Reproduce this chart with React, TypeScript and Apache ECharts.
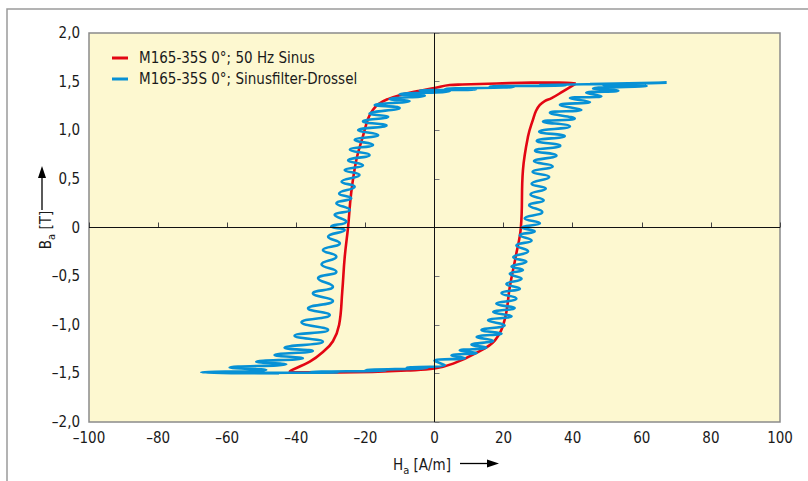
import React, { useEffect, useRef } from "react";
import * as echarts from "echarts";

// ---- data (H in A/m, B in T) ----
const redName = "M165-35S 0°; 50 Hz Sinus";
const blueName = "M165-35S 0°; Sinusfilter-Drossel";

const redH = [40.9, 36, 28, 18, 8, 4.4, 0, -5.2, -10.1, -13.5, -16.2, -17.8, -19.2, -20.7, -22.6, -24.1, -25.0, -26.0, -26.7, -27.6, -29.4, -32.3, -36.1, -41.9,
  -36, -28, -18, -8, 0, 5.4, 12.1, 17.5, 20.3, 21.8, 23.5, 25.0, 25.6, 27.1, 28.5, 29.4, 30.5, 31.9, 33.9, 37.2, 40.9];
const redB = [1.48, 1.49, 1.49, 1.48, 1.47, 1.465, 1.435, 1.40, 1.36, 1.32, 1.27, 1.21, 1.12, 0.94, 0.70, 0.36, 0.01, -0.31, -0.66, -1.0, -1.17, -1.28, -1.38, -1.48,
  -1.49, -1.49, -1.485, -1.47, -1.45, -1.40, -1.29, -1.16, -0.95, -0.61, -0.30, 0.0, 0.59, 0.94, 1.11, 1.2, 1.26, 1.30, 1.33, 1.40, 1.48];

const blueTopH = [67.2, 45, 56, 30, 38, 16, 23, 3, 12];
const blueTopB = [1.49, 1.475, 1.478, 1.465, 1.462, 1.45, 1.445, 1.425, 1.418];

const blueLeftUpH = [-4.3, 4.4, -10.1, -2.8, -13.0, -7.2, -17.3, -10.1, -18.8, -13.4, -20.7, -13.9, -22.1, -16.3, -23.1, -17.8,
  -24.5, -18.8, -25.0, -20.7, -26.0, -21.7, -26.9, -23.1, -27.6, -24.1, -28.4, -24.5, -28.9, -25.5, -29.9];
const blueLeftUpB = [1.41, 1.40, 1.37, 1.355, 1.32, 1.30, 1.26, 1.23, 1.17, 1.14, 1.09, 1.05, 1.00, 0.95, 0.90, 0.85,
  0.80, 0.745, 0.69, 0.64, 0.59, 0.54, 0.47, 0.42, 0.35, 0.30, 0.25, 0.18, 0.13, 0.06, 0.01];

const blueLeftLowH = [-26.0, -30.8, -27.4, -32.3, -28.4, -32.7, -28.4, -33.7, -29.4, -35.2, -29.4, -36.6, -30.3, -38.5,
  -30.8, -40.5, -32.3, -43.4, -35.2, -46.3, -38.1, -51.6, -42.9, -59.3, -48.7, -67.5];
const blueLeftLowB = [-0.026, -0.095, -0.162, -0.231, -0.30, -0.378, -0.454, -0.522, -0.609, -0.677, -0.756, -0.831, -0.90, -0.975,
  -1.054, -1.113, -1.174, -1.236, -1.27, -1.311, -1.345, -1.38, -1.407, -1.44, -1.465, -1.49];

const blueBottomH = [-45, -55, -28, -36, -14, -20, -2, -8, 3];
const blueBottomB = [-1.50, -1.497, -1.49, -1.487, -1.47, -1.467, -1.445, -1.44, -1.415];

const blueRightLowH = [0, 8.8, 4.9, 12.2, 7.3, 15.0, 10.7, 17.0, 12.2, 19.4, 13.6, 20.3, 15.5, 22.3, 17.0, 23.2, 17.9,
  23.7, 19.4, 24.7, 20.8, 25.2, 21.8, 25.6, 22.3, 26.6, 22.8, 27.1, 23.7, 28.1, 24.7, 29.0, 25.3];
const blueRightLowB = [-1.37, -1.343, -1.315, -1.29, -1.265, -1.235, -1.205, -1.165, -1.125, -1.09, -1.055, -1.005, -0.955,
  -0.913, -0.87, -0.828, -0.785, -0.73, -0.675, -0.628, -0.58, -0.528, -0.475, -0.438, -0.40, -0.353, -0.305, -0.245, -0.185,
  -0.133, -0.08, -0.04, 0.0];

const blueRightUpH = [30.5, 26.1, 31.2, 27.4, 31.6, 27.8, 32.2, 28.1, 33.2, 28.4, 34.2, 28.8, 35.3, 29.1, 36.4, 29.6, 37.7,
  30.3, 39.2, 31.4, 40.6, 33.4, 42.5, 36.3, 45.0, 39.2, 48.3, 43.9, 53.2, 45.9, 61.4, 48.8, 67.2];
const blueRightUpB = [0.043, 0.095, 0.16, 0.23, 0.28, 0.34, 0.40, 0.45, 0.52, 0.57, 0.63, 0.68, 0.74, 0.79, 0.84, 0.89, 0.94,
  0.985, 1.04, 1.09, 1.12, 1.18, 1.21, 1.26, 1.29, 1.33, 1.35, 1.385, 1.405, 1.43, 1.455, 1.465, 1.49];

const pairs = (h: number[], b: number[]) => h.map((v, i) => [v, b[i]]);

export default function App() {
  const ref = useRef<HTMLDivElement>(null);
  useEffect(() => {
    const chart = echarts.init(ref.current!, null, { renderer: "svg" });
    const font = "'Liberation Sans Narrow', 'DejaVu Sans Condensed', 'Arial Narrow', sans-serif";
    const fmt = (v: number, d: number) =>
      v === 0 ? "0" : (v < 0 ? "\u2013" : "") + Math.abs(v).toFixed(d).replace(".", ",");
    const blueData = [
      ...pairs(blueTopH, blueTopB),
      ...pairs(blueLeftUpH, blueLeftUpB),
      ...pairs(blueLeftLowH, blueLeftLowB),
      ...pairs(blueBottomH, blueBottomB),
      ...pairs(blueRightLowH, blueRightLowB),
      ...pairs(blueRightUpH, blueRightUpB),
    ];
    const red = "#e30613";
    const blue = "#0791d5";
    const rich = {
      m: { fontSize: 15, fontFamily: font, fill: "#1a1a1a", lineHeight: 15, verticalAlign: "top" },
      s: { fontSize: 11, fontFamily: font, fill: "#1a1a1a", lineHeight: 11, padding: [7, 0, 0, 0], verticalAlign: "top" },
    };
    chart.setOption({
      animation: false,
      textStyle: { fontFamily: font },
      grid: {
        left: 89, right: 28, top: 33, bottom: 59, show: true,
        backgroundColor: "#fdf8d0", borderColor: "#8a8a8a", borderWidth: 1.5,
      },
      xAxis: {
        type: "value", min: -100, max: 100, interval: 20,
        axisLine: { show: false },
        axisTick: { inside: true, length: 5, lineStyle: { color: "#444" } },
        axisLabel: { formatter: (v: number) => fmt(v, 0), color: "#1a1a1a", fontSize: 15, fontFamily: font, margin: 8 },
        splitLine: { show: false },
      },
      yAxis: {
        type: "value", min: -2, max: 2, interval: 0.5,
        axisLine: { show: false },
        axisTick: { inside: true, length: 5, lineStyle: { color: "#777" } },
        axisLabel: { formatter: (v: number) => fmt(v, 1), color: "#1a1a1a", fontSize: 15, fontFamily: font, margin: 9 },
        splitLine: { show: false },
      },
      legend: {
        left: 112, top: 50, orient: "vertical", padding: 0, itemGap: 5,
        itemWidth: 16, itemHeight: 3, icon: "rect",
        data: [redName, blueName],
        textStyle: { fontSize: 15, color: "#1a1a1a", fontFamily: font, lineHeight: 16, padding: [0, 0, 0, 6] },
      },
      series: [
        {
          name: "zero", type: "line", data: [], z: 1, silent: true,
          markLine: {
            silent: true, symbol: "none", label: { show: false },
            lineStyle: { color: "#111", width: 1, type: "solid" },
            data: [{ xAxis: 0 }, { yAxis: 0 }],
          },
        },
        {
          name: redName, type: "line", data: pairs(redH, redB), symbol: "none", showSymbol: false,
          smooth: 0.4, z: 2, lineStyle: { color: red, width: 2.6 }, itemStyle: { color: red },
        },
        {
          name: blueName, type: "line", data: blueData, symbol: "none", showSymbol: false,
          smooth: 0.5, z: 3, lineStyle: { color: blue, width: 2.6 }, itemStyle: { color: blue },
        },
      ],
      graphic: [
        {
          type: "rect", silent: true, z: -10,
          shape: { x: 7, y: 9, width: 900, height: 600 },
          style: { fill: "none", stroke: "#9a9a9a", lineWidth: 1.5 },
        },
        {
          type: "text", x: 46, y: 230, rotation: Math.PI / 2,
          style: { text: "{m|B}{s|a}{m| [T]}", align: "center", verticalAlign: "middle", rich },
        },
        { type: "line", shape: { x1: 42, y1: 210, x2: 42, y2: 176 }, style: { stroke: "#000", lineWidth: 1.3 } },
        { type: "polygon", shape: { points: [[42, 166], [38, 178], [46, 178]] }, style: { fill: "#000" } },
        {
          type: "text", x: 422, y: 465,
          style: { text: "{m|H}{s|a}{m| [A/m]}", align: "center", verticalAlign: "middle", rich },
        },
        { type: "line", shape: { x1: 460, y1: 463.5, x2: 489, y2: 463.5 }, style: { stroke: "#000", lineWidth: 1.3 } },
        { type: "polygon", shape: { points: [[499, 463.5], [487, 459.5], [487, 467.5]] }, style: { fill: "#000" } },
      ],
    });
    return () => chart.dispose();
  }, []);
  return <div ref={ref} style={{ position: "absolute", left: 0, top: 0, width: 808, height: 481 }} />;
}
